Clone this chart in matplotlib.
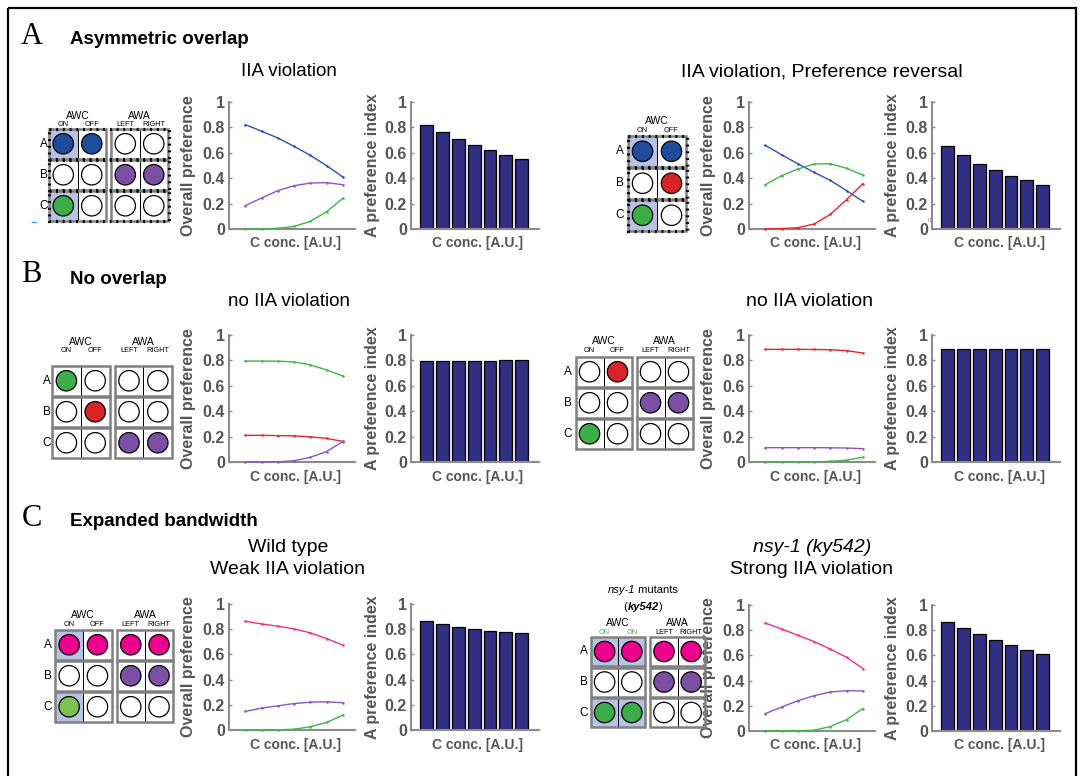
import matplotlib
matplotlib.use('Agg')
import matplotlib.pyplot as plt
from matplotlib.patches import Rectangle, Circle

plt.rcParams['font.family'] = ['Liberation Sans', 'DejaVu Sans']

# ---------------- data ----------------
conc = [1, 2, 3, 4, 5, 6, 7]
yticks = [0, 0.2, 0.4, 0.6, 0.8, 1]
ytick_labels = ['0', '0.2', '0.4', '0.6', '0.8', '1']

A1_blue = [0.822, 0.770, 0.717, 0.651, 0.580, 0.499, 0.410]
A1_purple = [0.184, 0.244, 0.302, 0.341, 0.362, 0.365, 0.349]
A1_green = [0.000, 0.000, 0.005, 0.020, 0.060, 0.136, 0.241]
A1_bars = [0.822, 0.764, 0.711, 0.664, 0.619, 0.583, 0.549]

A2_blue = [0.659, 0.585, 0.514, 0.446, 0.383, 0.302, 0.218]
A2_green = [0.349, 0.420, 0.472, 0.512, 0.514, 0.478, 0.425]
A2_red = [0.000, 0.003, 0.010, 0.039, 0.115, 0.231, 0.357]
A2_bars = [0.656, 0.580, 0.514, 0.465, 0.417, 0.383, 0.344]

B1_green = [0.795, 0.795, 0.794, 0.788, 0.765, 0.725, 0.677]
B1_red = [0.210, 0.210, 0.208, 0.206, 0.198, 0.186, 0.162]
B1_purple = [0.000, 0.000, 0.001, 0.010, 0.037, 0.082, 0.161]
B1_bars = [0.795, 0.795, 0.795, 0.795, 0.797, 0.801, 0.807]

B2_red = [0.887, 0.887, 0.887, 0.886, 0.884, 0.877, 0.858]
B2_purple = [0.113, 0.113, 0.113, 0.113, 0.112, 0.110, 0.105]
B2_green = [0.000, 0.000, 0.000, 0.001, 0.005, 0.015, 0.037]
B2_bars = [0.887, 0.887, 0.887, 0.887, 0.887, 0.888, 0.889]

C1_magenta = [0.863, 0.842, 0.824, 0.803, 0.771, 0.726, 0.674]
C1_purple = [0.147, 0.174, 0.192, 0.210, 0.221, 0.224, 0.216]
C1_green = [0.000, 0.000, 0.001, 0.006, 0.026, 0.060, 0.118]
C1_bars = [0.863, 0.842, 0.818, 0.803, 0.787, 0.774, 0.766]

C2_magenta = [0.857, 0.810, 0.760, 0.710, 0.650, 0.585, 0.496]
C2_purple = [0.138, 0.190, 0.240, 0.280, 0.310, 0.320, 0.318]
C2_green = [0.000, 0.000, 0.002, 0.006, 0.035, 0.090, 0.178]
C2_bars = [0.862, 0.814, 0.767, 0.719, 0.680, 0.645, 0.613]

# schematic configurations (cell colour codes, highlighted cells)
A1_cells = [['b', 'b', None, None], [None, None, 'p', 'p'], ['g', None, None, None]]
A1_hl = [[1, 0, 0, 0], [0, 0, 0, 0], [1, 0, 0, 0]]
A2_cells = [['b', 'b'], [None, 'r'], ['g', None]]
A2_hl = [[1, 0], [0, 0], [1, 0]]
B1_cells = [['g', None, None, None], [None, 'r', None, None], [None, None, 'p', 'p']]
B1_hl = [[0, 0, 0, 0], [0, 0, 0, 0], [0, 0, 0, 0]]
B2_cells = [[None, 'r', None, None], [None, None, 'p', 'p'], ['g', None, None, None]]
B2_hl = [[0, 0, 0, 0], [0, 0, 0, 0], [0, 0, 0, 0]]
C1_cells = [['m', 'm', 'm', 'm'], [None, None, 'p', 'p'], ['lg', None, None, None]]
C1_hl = [[1, 0, 0, 0], [0, 0, 0, 0], [1, 0, 0, 0]]
C2_cells = [['m', 'm', 'm', 'm'], [None, None, 'p', 'p'], ['g', 'g', None, None]]
C2_hl = [[1, 1, 0, 0], [0, 0, 0, 0], [1, 1, 0, 0]]

row_names = ['A', 'B', 'C']
# --------------------------------------

W, H = 1080, 776
fig = plt.figure(figsize=(W / 100, H / 100), dpi=100)
ov = fig.add_axes([0, 0, 1, 1])
ov.set_xlim(0, W)
ov.set_ylim(H, 0)
ov.axis('off')

GRAY = '#555555'
SPINE = '#8c8c8c'
BAR = '#302f83'
HL = '#b8c3e3'
LC = {'blue': '#2f4fb3', 'purple': '#8b55c6', 'green': '#3db54a',
      'red': '#e5252c', 'magenta': '#ee2a95'}
CC = {'b': '#1f4d9c', 'p': '#7b4fa4', 'g': '#3cae49', 'r': '#d8232a',
      'm': '#ec008c', 'lg': '#7bc253'}


def pax(l, t, r, b):
    return fig.add_axes([l / W, 1 - b / H, (r - l) / W, (b - t) / H])


def style(ax, xmax):
    ax.set_xlim(0, xmax)
    ax.set_ylim(0, 1)
    for s in ['top', 'right']:
        ax.spines[s].set_visible(False)
    for s in ['left', 'bottom']:
        ax.spines[s].set_color(SPINE)
        ax.spines[s].set_linewidth(1.5)
    ax.set_xticks([])
    ax.set_yticks(yticks)
    ax.set_yticklabels(ytick_labels)
    ax.tick_params(axis='y', direction='in', length=2.5, width=1, color=SPINE,
                   pad=3, labelsize=11.5, labelcolor=GRAY)
    for lab in ax.get_yticklabels():
        lab.set_fontweight('bold')
    ax.patch.set_alpha(0)


def line_panel(l, t, r, b, series):
    ax = pax(l, t, r, b)
    style(ax, 7.75)
    for vals, c in series:
        ax.plot(conc, vals, color=LC[c], lw=1.0, marker='.', ms=1.6,
                clip_on=False, zorder=3)
    ov.text(l - 40.5, (t + b) / 2, 'Overall preference', rotation=90,
            ha='center', va='center', fontsize=11.5, fontweight='bold', color=GRAY)
    ov.text((l + r) / 2 + 4, b + 14.5, 'C conc. [A.U.]', ha='center', va='center',
            fontsize=10, fontweight='bold', color=GRAY)
    return ax


def bar_panel(l, t, r, b, vals):
    ax = pax(l, t, r, b)
    style(ax, 8.1)
    ax.bar(conc, vals, width=0.82, color=BAR, edgecolor='black', lw=0.9)
    ov.text(l - 39, (t + b) / 2, 'A preference index', rotation=90,
            ha='center', va='center', fontsize=11.5, fontweight='bold', color=GRAY)
    ov.text((l + r) / 2 + 3, b + 14.5, 'C conc. [A.U.]', ha='center', va='center',
            fontsize=10, fontweight='bold', color=GRAY)
    return ax


def schematic(x0, y0, cw, rh, cells, hls, dotted, lab_x, awc_y, on_y,
              subs=None, sub_color='black', rg=1.5, gg=5, rad=10.2):
    ncols = len(cells[0])
    ngroups = ncols // 2
    total_w = ngroups * 2 * cw + (ngroups - 1) * gg
    for ri, (row, hl) in enumerate(zip(cells, hls)):
        y = y0 + ri * (rh + rg)
        for ci, (col, h) in enumerate(zip(row, hl)):
            g = ci // 2
            x = x0 + g * (2 * cw + gg) + (ci % 2) * cw
            ov.add_patch(Rectangle((x, y), cw, rh, facecolor=HL if h else 'white',
                                   edgecolor='black', lw=0.7, zorder=2))
            ov.add_patch(Circle((x + cw / 2, y + rh / 2), rad,
                                facecolor=CC[col] if col else 'white',
                                edgecolor='black', lw=0.9, zorder=3))
        for g in range(ngroups):
            xg = x0 + g * (2 * cw + gg)
            ov.add_patch(Rectangle((xg, y), 2 * cw, rh, fill=False,
                                   edgecolor='#808080', lw=1.8, zorder=4))
        if dotted:
            ov.add_patch(Rectangle((x0 - 0.5, y - 0.5), total_w + 1, rh + 1, fill=False,
                                   edgecolor='black', lw=2.3,
                                   linestyle=(0, (0.6, 1.5)), zorder=5))
        ov.text(lab_x, y + rh / 2, row_names[ri], ha='center', va='center',
                fontsize=8.5, zorder=1)
    names = ['AWC', 'AWA']
    if subs is None:
        subs = ['ON', 'OFF', 'LEFT', 'RIGHT']
    for g in range(ngroups):
        xg = x0 + g * (2 * cw + gg)
        ov.text(xg + cw, awc_y, names[g], ha='center', va='center', fontsize=7.5)
        for k in range(2):
            c = sub_color if g == 0 else 'black'
            ov.text(xg + cw / 2 + k * cw, on_y, subs[g * 2 + k], ha='center',
                    va='center', fontsize=5.3, color=c)


def rich(x, y, parts, size):
    t0 = ov.text(x, y, parts[0][0], fontsize=size, ha='left', va='center', **parts[0][1])
    arts = [t0]
    prev = t0
    for s, kw in parts[1:]:
        prev = ov.annotate(s, xy=(1, 0), xycoords=prev, ha='left', va='bottom',
                           fontsize=size, **kw)
        arts.append(prev)
    fig.canvas.draw()
    rnd = fig.canvas.get_renderer()
    wtot = sum(a.get_window_extent(rnd).width for a in arts)
    t0.set_x(x - wtot / 2)


# outer frame
ov.add_patch(Rectangle((8, 8), 1068, 780, fill=False, edgecolor='black', lw=1.6))

# panel letters and headings
for letter, head, yy in [('A', 'Asymmetric overlap', 36), ('B', 'No overlap', 275),
                         ('C', 'Expanded bandwidth', 518)]:
    ov.text(31.5, yy, letter, ha='center', va='center', fontsize=22,
            family='Liberation Serif')
    ov.text(70.5, yy + 4, head, ha='left', va='center', fontsize=13.5, fontweight='bold')

# titles
ov.text(289, 72, 'IIA violation', ha='center', va='center', fontsize=13.5)
ov.text(822, 72, 'IIA violation, Preference reversal', ha='center', va='center', fontsize=14)
ov.text(289, 301, 'no IIA violation', ha='center', va='center', fontsize=13.5)
ov.text(810, 302, 'no IIA violation', ha='center', va='center', fontsize=14)
ov.text(288, 547, 'Wild type', ha='center', va='center', fontsize=14)
ov.text(288, 570, 'Weak IIA violation', ha='center', va='center', fontsize=14)
ov.text(812, 547, 'nsy-1 (ky542)', ha='center', va='center', fontsize=14, style='italic')
ov.text(812, 570, 'Strong IIA violation', ha='center', va='center', fontsize=14)

# row A plots
line_panel(229, 102, 355, 229, [(A1_blue, 'blue'), (A1_purple, 'purple'), (A1_green, 'green')])
bar_panel(411, 102, 539, 229, A1_bars)
line_panel(749, 102, 875, 229, [(A2_blue, 'blue'), (A2_green, 'green'), (A2_red, 'red')])
bar_panel(932, 102, 1060, 229, A2_bars)
ov.text(929.5, 221, '0', fontsize=4.5, color='#888888', ha='center', va='center')

# row B plots
line_panel(229, 335, 355, 462, [(B1_green, 'green'), (B1_red, 'red'), (B1_purple, 'purple')])
bar_panel(411, 335, 539, 462, B1_bars)
line_panel(749, 335, 875, 462, [(B2_red, 'red'), (B2_purple, 'purple'), (B2_green, 'green')])
bar_panel(932, 335, 1060, 462, B2_bars)

# row C plots
line_panel(229, 604, 355, 730, [(C1_magenta, 'magenta'), (C1_purple, 'purple'), (C1_green, 'green')])
bar_panel(411, 604, 539, 730, C1_bars)
line_panel(749, 605, 875, 731, [(C2_magenta, 'magenta'), (C2_purple, 'purple'), (C2_green, 'green')])
bar_panel(932, 605, 1060, 731, C2_bars)

# schematics
schematic(49, 129, 28.5, 29.5, A1_cells, A1_hl, True, 44, 116, 124)
ov.plot([32, 36], [222, 222], color='#2aa3d6', lw=1)
schematic(628, 136, 29, 30.5, A2_cells, A2_hl, True, 620, 120.5, 130.5,
          subs=['ON', 'OFF'])
schematic(52, 366, 28.8, 29.5, B1_cells, B1_hl, False, 46.5, 342, 350.5)
schematic(575.5, 357, 28, 29.5, B2_cells, B2_hl, False, 567.5, 341, 350.5)
schematic(55, 630, 28.3, 29.5, C1_cells, C1_hl, False, 47.5, 615, 624)
schematic(591, 637, 27.2, 29.0, C2_cells, C2_hl, False, 584, 623, 633,
          subs=['ON', 'ON', 'LEFT', 'RIGHT'], sub_color='#3cb44a')

rich(643, 590, [('nsy-1', dict(style='italic')), (' mutants', dict())], 8)
rich(643, 607, [('(', dict()), ('ky542', dict(style='italic', weight='bold')), (')', dict())], 8)

fig.savefig('out.png', dpi=100)
